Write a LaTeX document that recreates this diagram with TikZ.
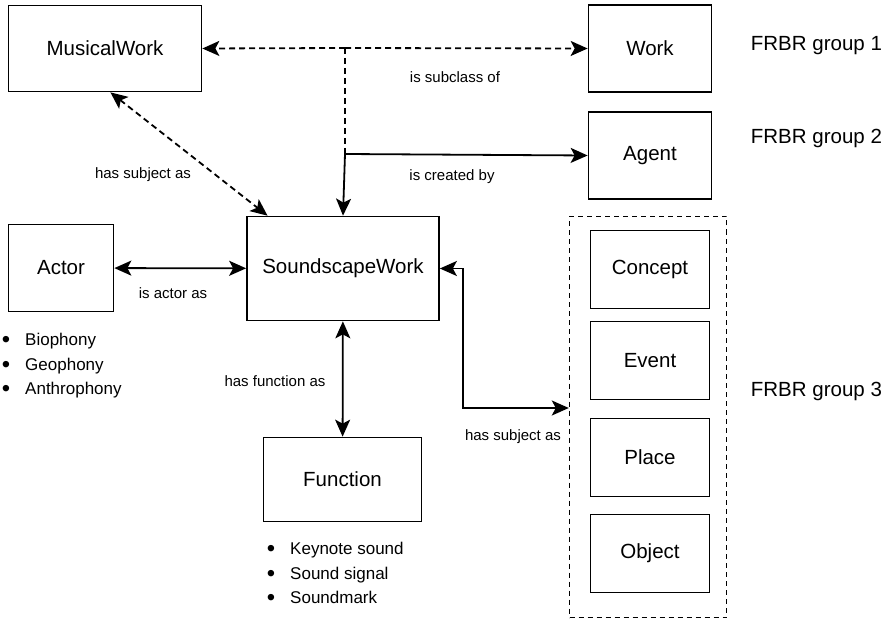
\documentclass[tikz,border=0pt]{standalone}
\usepackage{fontspec}
\setmainfont{Liberation Sans}
\usetikzlibrary{arrows.meta,positioning}

\newcommand{\itemdot}{\raisebox{-1.8pt}{\scalebox{1.4}{\textbullet}}}

\begin{document}
\begin{tikzpicture}[
    x=1pt, y=-1pt,
    >={Stealth[length=17pt,width=15pt,inset=4pt]},
    line width=1.8pt,
    entity/.style={draw, line width=1.7pt, inner sep=0pt, font=\fontsize{20.5}{24}\selectfont},
    frbr/.style={entity, minimum width=123pt, minimum height=87pt},
    facet/.style={entity, minimum width=119pt, minimum height=78pt},
    groupbox/.style={draw, dash pattern=on 5pt off 4pt, line width=1.4pt, minimum width=157pt, minimum height=401pt},
    dashlink/.style={dash pattern=on 6pt off 4pt},
    rel/.style={font=\fontsize{15}{18}\selectfont, inner sep=0pt},
    grouplabel/.style={font=\fontsize{20.5}{24}\selectfont, anchor=west, inner sep=0pt},
    items/.style={font=\fontsize{17}{24.5}\selectfont, anchor=west, inner sep=0pt}
]
\useasboundingbox (0,0) rectangle (891,620);

% works and agents
\node[entity, minimum width=193pt, minimum height=86pt] (musical) at (105,48.5) {MusicalWork};
\node[frbr] (work) at (650,48.5) {Work};
\node[frbr] (agent) at (650,155.5) {Agent};
\node[entity, minimum width=192pt, minimum height=104pt] (sound) at (343,268.5) {SoundscapeWork};
\node[entity, minimum width=105pt, minimum height=87pt] (actor) at (61,268) {Actor};
\node[entity, minimum width=158pt, minimum height=84pt] (func) at (342.5,479.5) {Function};

% group 3 entities
\node[groupbox] (group) at (648,417) {};
\node[facet] (concept) at (650,269.5) {Concept};
\node[facet] (event) at (650,360.5) {Event};
\node[facet] (place) at (650,457.5) {Place};
\node[facet] (object) at (650,553.5) {Object};

\node[grouplabel] (g1) at (750,46) {FRBR group 1};
\node[grouplabel] (g2) at (750,138) {FRBR group 2};
\node[grouplabel] (g3) at (750,391) {FRBR group 3};

% lists under actor and function
\node[items] (actorlist) at (1,365.5) {\begin{tabular}{@{}l@{\hspace{15pt}}l@{}}
\itemdot & Biophony\\
\itemdot & Geophony\\
\itemdot & Anthrophony
\end{tabular}};
\node[items] (funclist) at (266,574.5) {\begin{tabular}{@{}l@{\hspace{15pt}}l@{}}
\itemdot & Keynote sound\\
\itemdot & Sound signal\\
\itemdot & Soundmark
\end{tabular}};

% relations
\coordinate (split) at (345,48);
\coordinate (fork) at (345,154);
\coordinate (bend) at (463,408);

\draw[dashlink, ->] (split) -- (musical.east);
\draw[dashlink, ->] (split) -- (work.west);
\draw[dashlink] (split) -- (fork);
\draw[->] (fork) -- (agent.west);
\draw[->] (fork) -- (sound.north);
\draw[dashlink, <->] (musical.-83) -- (sound.145);
\draw[<->] (actor) -- (sound);
\draw[<->] (sound) -- (func);
\draw[<->] (sound.east) -| (bend) -- (group.west |- bend);

\node[rel] (subclass) at (455,77) {is subclass of};
\node[rel] (created) at (452,177) {is created by};
\node[rel] (subject1) at (143,175) {has subject as};
\node[rel] (actoras) at (173,293) {is actor as};
\node[rel] (funcas) at (275,381) {has function as};
\node[rel] (subject3) at (513,437) {has subject as};
\end{tikzpicture}
\end{document}
